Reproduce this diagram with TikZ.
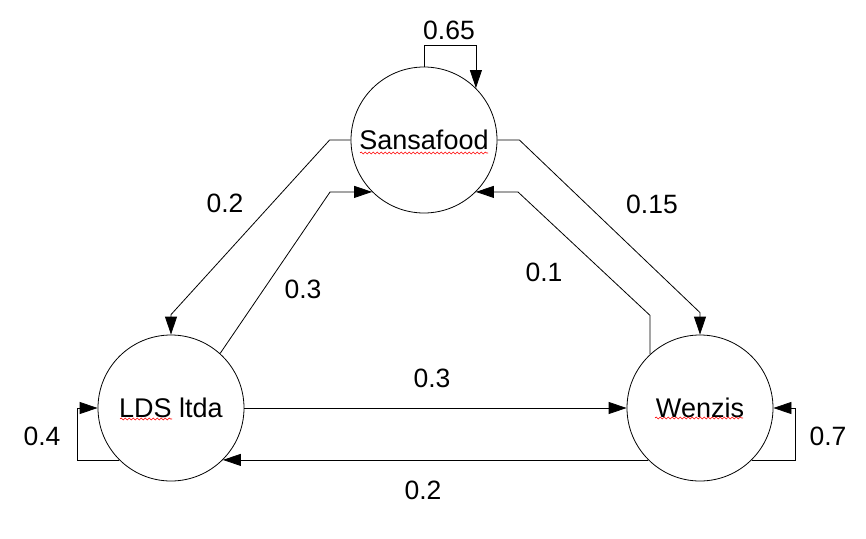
\documentclass[tikz,border=0pt]{standalone}
\usepackage{fontspec}
\setmainfont{Liberation Sans}
\usetikzlibrary{arrows.meta,calc,decorations.pathmorphing}
\tikzset{
  firm/.style={draw,circle,minimum size=146pt,inner sep=0pt,line width=0.8pt,font=\fontsize{27}{30}\selectfont},
  flow/.style={-{Triangle[length=18pt,width=12pt]},line width=0.8pt},
  prob/.style={font=\fontsize{26.5}{30}\selectfont},
  spell/.style={red,line width=0.6pt,decorate,decoration={snake,amplitude=1pt,segment length=4pt}}
}
\begin{document}
\begin{tikzpicture}[x=1pt,y=-1pt]
  \useasboundingbox (0,0) rectangle (866,538);
  % companies
  \node[firm] (sansa) at (424,140) {Sansafood};
  \node[firm] (lds) at (171,408) {LDS ltda};
  \node[firm] (wenzis) at (700,408) {Wenzis};
  % spell check marks
  \draw[spell] ($(sansa.center)+(-64,13)$) -- ++(128,0);
  \draw[spell] ($(lds.center)+(-51,11)$) -- ++(52,0);
  \draw[spell] ($(wenzis.center)+(-45,10)$) -- ++(88,0);
  % transitions
  \draw[flow] (sansa.north) -- ++(0,-21) -| (sansa.45);
  \draw[flow] (sansa.west) -- ++(-21,0) -- ($(lds.north)+(0,-20)$) -- (lds.north);
  \draw[flow] (lds.48) -- ($(sansa.225)+(-42,0)$) -- (sansa.225);
  \draw[flow] (sansa.east) -- ++(22,0) -- ($(wenzis.north)+(0,-22)$) -- (wenzis.north);
  \draw[flow] (wenzis.133) -- ++(0,-39) -- ($(sansa.-45)+(42,0)$) -- (sansa.-45);
  \draw[flow] (lds.east) -- (wenzis.west);
  \draw[flow] (wenzis.225) -- (lds.-45);
  \draw[flow] (lds.225) -- ++(-42,0) |- (lds.west);
  \draw[flow] (wenzis.-45) -- ++(43,0) |- (wenzis.east);
  % probabilities
  \node[prob] (pss) at (449,30) {0.65};
  \node[prob] (psl) at (225,203) {0.2};
  \node[prob] (pls) at (303,289) {0.3};
  \node[prob] (psw) at (652,204) {0.15};
  \node[prob] (pws) at (544,272) {0.1};
  \node[prob] (plw) at (432,378) {0.3};
  \node[prob] (pwl) at (423,490) {0.2};
  \node[prob] (pll) at (42,436) {0.4};
  \node[prob] (pww) at (828,436) {0.7};
\end{tikzpicture}
\end{document}
